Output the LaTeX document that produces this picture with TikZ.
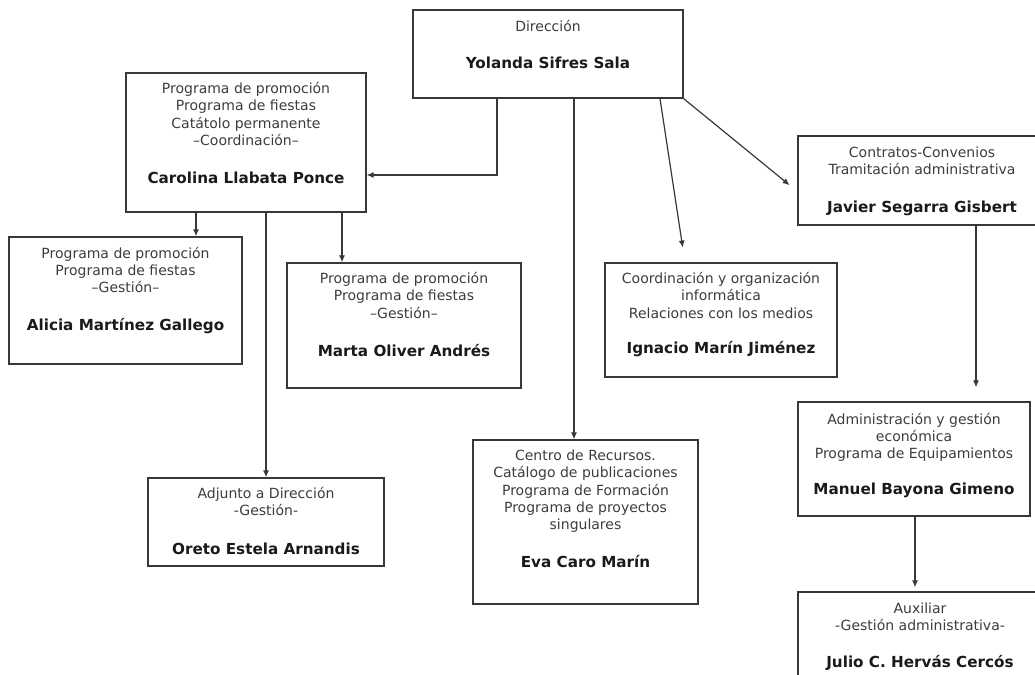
\documentclass[tikz,border=0pt]{standalone}
\usepackage{fontspec}
\setmainfont{DejaVu Sans}
\usetikzlibrary{positioning,arrows.meta}

\definecolor{linegray}{HTML}{383838}
\definecolor{txtgray}{HTML}{3C3C3C}
\definecolor{namegray}{HTML}{1A1A1A}

\newcommand{\nombre}[1]{{\fontsize{15.2}{17.3}\selectfont\bfseries\color{namegray}#1}}

\tikzset{
  unitbox/.style={draw=linegray, line width=1.3pt, inner sep=0pt},
  unittext/.style={align=center, inner sep=0pt, text=txtgray, font=\fontsize{14}{17.3}\selectfont},
  link/.style={draw=linegray, line width=1.2pt, -{Latex[length=7pt,width=6pt]}}
}

\begin{document}
\begin{tikzpicture}[x=1pt, y=-1pt]
  \useasboundingbox (0,0) rectangle (1035,674);

  % Direccion
  \node[unitbox, minimum width=270pt, minimum height=88pt] (dir) at (548,54) {};
  \node[unittext, below=9.5pt of dir.north] (dirt) {\strut Dirección\\[20.5pt]\nombre{Yolanda Sifres Sala}};

  % Coordinacion (left branch)
  \node[unitbox, minimum width=240pt, minimum height=139pt] (caro) at (246,142.5) {};
  \node[unittext, below=9pt of caro.north] (carot) {\strut Programa de promoción\\Programa de fiestas\\Catátolo permanente\\–Coordinación–\\[21pt]\nombre{Carolina Llabata Ponce}};

  \node[unitbox, minimum width=233pt, minimum height=127pt] (ali) at (125.5,300.5) {};
  \node[unittext, below=9.5pt of ali.north] (alit) {\strut Programa de promoción\\Programa de fiestas\\–Gestión–\\[20.5pt]\nombre{Alicia Martínez Gallego}};

  \node[unitbox, minimum width=234pt, minimum height=125pt] (mar) at (404,325.5) {};
  \node[unittext, below=9pt of mar.north] (mart) {\strut Programa de promoción\\Programa de fiestas\\–Gestión–\\[20.5pt]\nombre{Marta Oliver Andrés}};

  \node[unitbox, minimum width=236pt, minimum height=88pt] (ore) at (266,522) {};
  \node[unittext, below=9pt of ore.north] (oret) {\strut Adjunto a Dirección\\-Gestión-\\[21pt]\nombre{Oreto Estela Arnandis}};

  % Centro de recursos / informatica
  \node[unitbox, minimum width=225pt, minimum height=164pt] (eva) at (585.5,522) {};
  \node[unittext, below=9pt of eva.north] (evat) {\strut Centro de Recursos.\\Catálogo de publicaciones\\Programa de Formación\\Programa de proyectos\\singulares\\[20pt]\nombre{Eva Caro Marín}};

  \node[unitbox, minimum width=232pt, minimum height=114pt] (ign) at (721,320) {};
  \node[unittext, below=9pt of ign.north] (ignt) {\strut Coordinación y organización\\informática\\Relaciones con los medios\\[18pt]\nombre{Ignacio Marín Jiménez}};

  % Administracion (right branch)
  \node[unitbox, minimum width=248pt, minimum height=89pt] (jav) at (922,180.5) {};
  \node[unittext, below=10pt of jav.north] (javt) {\strut Contratos-Convenios\\Tramitación administrativa\\[20.5pt]\nombre{Javier Segarra Gisbert}};

  \node[unitbox, minimum width=232pt, minimum height=114pt] (man) at (914,459) {};
  \node[unittext, below=10.5pt of man.north] (mant) {\strut Administración y gestión\\económica\\Programa de Equipamientos\\[18pt]\nombre{Manuel Bayona Gimeno}};

  \node[unitbox, minimum width=244pt, minimum height=100pt] (jul) at (920,642) {};
  \node[unittext, below=10pt of jul.north] (jult) {\strut Auxiliar\\-Gestión administrativa-\\[19pt]\nombre{Julio C. Hervás Cercós}};

  % connectors
  \draw[link] ([xshift=-51pt]dir.south) |- ([yshift=-32.5pt]caro.east);
  \draw[link] ([xshift=26pt]dir.south) -- ([xshift=26pt]dir.south |- eva.north);
  \draw[link, shorten >=15pt] ([xshift=112pt]dir.south) -- ([xshift=-36pt]ign.north);
  \draw[link, shorten >=10pt] (dir.south east) -- ([yshift=-11pt]jav.west);

  \draw[link] ([xshift=-50pt]caro.south) -- ([xshift=-50pt]caro.south |- ali.north);
  \draw[link] ([xshift=20pt]caro.south) -- ([xshift=20pt]caro.south |- ore.north);
  \draw[link] ([xshift=96pt]caro.south) -- ([xshift=96pt]caro.south |- mar.north);

  \draw[link, shorten >=14pt] ([xshift=54pt]jav.south) -- ([xshift=54pt]jav.south |- man.north);
  \draw[link, shorten >=4pt] ([xshift=1pt]man.south) -- ([xshift=1pt]man.south |- jul.north);
\end{tikzpicture}
\end{document}
